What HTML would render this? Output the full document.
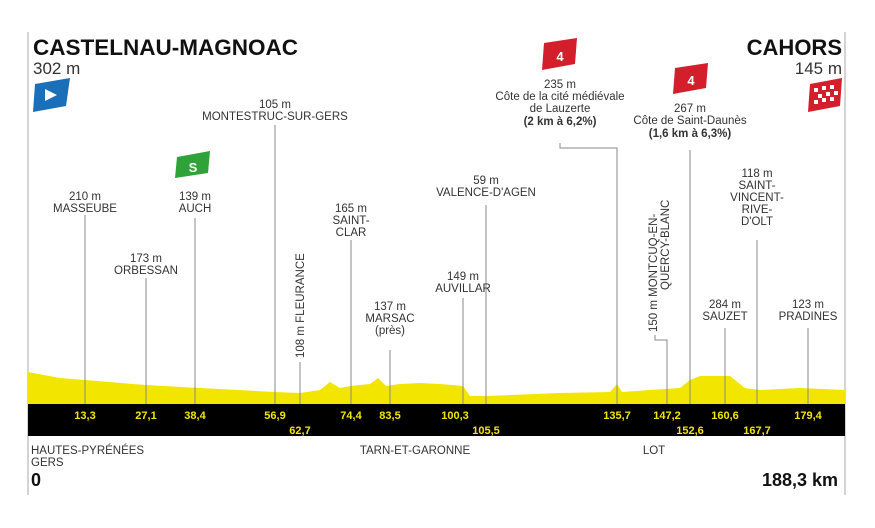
<!DOCTYPE html>
<html><head><meta charset="utf-8"><style>
body{margin:0;background:#fff;}
svg{display:block;font-family:"Liberation Sans",sans-serif;}
.l{fill:#333;font-size:11.5px;text-anchor:middle;}
.k{fill:#f2e600;font-size:11px;font-weight:bold;text-anchor:middle;}
.v{stroke:#888;stroke-width:1;fill:none;}
</style></head><body>
<svg width="875" height="528" viewBox="0 0 875 528">
<rect width="875" height="528" fill="#fff"/>
<line x1="28" y1="32" x2="28" y2="495" stroke="#aaa"/>
<line x1="845" y1="32" x2="845" y2="495" stroke="#aaa"/>
<text x="33" y="55" font-size="22" font-weight="bold" fill="#111" textLength="265" lengthAdjust="spacingAndGlyphs">CASTELNAU-MAGNOAC</text>
<text x="33" y="74" font-size="17" fill="#333">302 m</text>
<text x="842" y="55" font-size="22" font-weight="bold" fill="#111" text-anchor="end">CAHORS</text>
<text x="842" y="74" font-size="17" fill="#333" text-anchor="end">145 m</text>
<polygon points="35,84 70,78 66,106 33,112" fill="#1a6fb8"/><polygon points="45,89 57,95 45,101" fill="#fff"/>
<polygon points="810,84 842,78 840,106 808,112" fill="#d21f2b"/>
<g fill="#fff"><rect x="814" y="88" width="4" height="4"/><rect x="822" y="86" width="4" height="4"/><rect x="830" y="85" width="4" height="4"/><rect x="818" y="94" width="4" height="4"/><rect x="826" y="92" width="4" height="4"/><rect x="834" y="91" width="4" height="4"/><rect x="814" y="100" width="4" height="4"/><rect x="822" y="98" width="4" height="4"/><rect x="830" y="97" width="4" height="4"/></g>
<polygon points="177,157 210,151 208,173 175,178" fill="#2fa33a"/><text x="193" y="172" font-size="13" font-weight="bold" fill="#fff" text-anchor="middle">S</text>
<polygon points="544,43 577,38 575,64 542,70" fill="#d21f2b"/><text x="560" y="61" font-size="13" font-weight="bold" fill="#fff" text-anchor="middle">4</text>
<polygon points="675,68 708,63 706,88 673,94" fill="#d21f2b"/><text x="691" y="85" font-size="13" font-weight="bold" fill="#fff" text-anchor="middle">4</text>
<polygon fill="#f2e600" points="28,372 60,378 146,385 200,388 275,392 300,393 320,390 330,382 340,388 350,386 370,384 378,378 386,386 400,384 420,383 440,384 463,386 470,396 486,396 560,393 610,392 617,384 622,392 650,390 680,388 690,380 700,376 730,376 745,388 760,390 800,388 845,390 845,404 28,404"/>
<g class="v">
<line x1="85" y1="215" x2="85" y2="404"/><line x1="146" y1="278" x2="146" y2="404"/>
<line x1="195" y1="218" x2="195" y2="404"/><line x1="275" y1="125" x2="275" y2="404"/>
<line x1="300" y1="362" x2="300" y2="404"/><line x1="351" y1="240" x2="351" y2="404"/>
<line x1="390" y1="350" x2="390" y2="404"/><line x1="463" y1="298" x2="463" y2="404"/>
<line x1="486" y1="205" x2="486" y2="404"/><polyline points="560,143 560,148 617,148 617,404"/>
<polyline points="655,335 655,340 667,340 667,404"/><line x1="690" y1="150" x2="690" y2="404"/>
<line x1="725" y1="328" x2="725" y2="404"/><line x1="757" y1="240" x2="757" y2="404"/>
<line x1="808" y1="328" x2="808" y2="404"/>
</g>
<rect x="28" y="404" width="817" height="32" fill="#000"/>
<g class="k">
<text x="85" y="419">13,3</text><text x="146" y="419">27,1</text><text x="195" y="419">38,4</text>
<text x="275" y="419">56,9</text><text x="300" y="434">62,7</text><text x="351" y="419">74,4</text>
<text x="390" y="419">83,5</text><text x="455" y="419">100,3</text><text x="486" y="434">105,5</text>
<text x="617" y="419">135,7</text><text x="667" y="419">147,2</text><text x="690" y="434">152,6</text>
<text x="725" y="419">160,6</text><text x="757" y="434">167,7</text><text x="808" y="419">179,4</text>
</g>
<g class="l">
<text x="85" y="200">210 m</text><text x="85" y="212">MASSEUBE</text>
<text x="146" y="262">173 m</text><text x="146" y="274">ORBESSAN</text>
<text x="195" y="200">139 m</text><text x="195" y="212">AUCH</text>
<text x="275" y="108">105 m</text><text x="275" y="120">MONTESTRUC-SUR-GERS</text>
<text x="351" y="212">165 m</text><text x="351" y="224">SAINT-</text><text x="351" y="236">CLAR</text>
<text x="390" y="310">137 m</text><text x="390" y="322">MARSAC</text><text x="390" y="334">(près)</text>
<text x="463" y="280">149 m</text><text x="463" y="292">AUVILLAR</text>
<text x="486" y="184">59 m</text><text x="486" y="196">VALENCE-D'AGEN</text>
<text x="560" y="88">235 m</text><text x="560" y="100">Côte de la cité médiévale</text><text x="560" y="112">de Lauzerte</text>
<text x="560" y="125" font-weight="bold">(2 km à 6,2%)</text>
<text x="690" y="112">267 m</text><text x="690" y="124">Côte de Saint-Daunès</text>
<text x="690" y="137" font-weight="bold">(1,6 km à 6,3%)</text>
<text x="757" y="177">118 m</text><text x="757" y="189">SAINT-</text><text x="757" y="201">VINCENT-</text><text x="757" y="213">RIVE-</text><text x="757" y="225">D'OLT</text>
<text x="725" y="308">284 m</text><text x="725" y="320">SAUZET</text>
<text x="808" y="308">123 m</text><text x="808" y="320">PRADINES</text>
<text transform="translate(304,358) rotate(-90)" text-anchor="start">108 m FLEURANCE</text>
<text transform="translate(657,332) rotate(-90)" text-anchor="start">150 m MONTCUQ-EN-</text>
<text transform="translate(669,290) rotate(-90)" text-anchor="start">QUERCY-BLANC</text>
</g>
<text x="31" y="454" font-size="11.5" fill="#333">HAUTES-PYRÉNÉES</text>
<text x="31" y="466" font-size="11.5" fill="#333">GERS</text>
<text x="31" y="486" font-size="18" font-weight="bold" fill="#111">0</text>
<text x="415" y="454" font-size="11.5" fill="#333" text-anchor="middle">TARN-ET-GARONNE</text>
<text x="654" y="454" font-size="11.5" fill="#333" text-anchor="middle">LOT</text>
<text x="838" y="486" font-size="18" font-weight="bold" fill="#111" text-anchor="end">188,3 km</text>
</svg>
</body></html>
